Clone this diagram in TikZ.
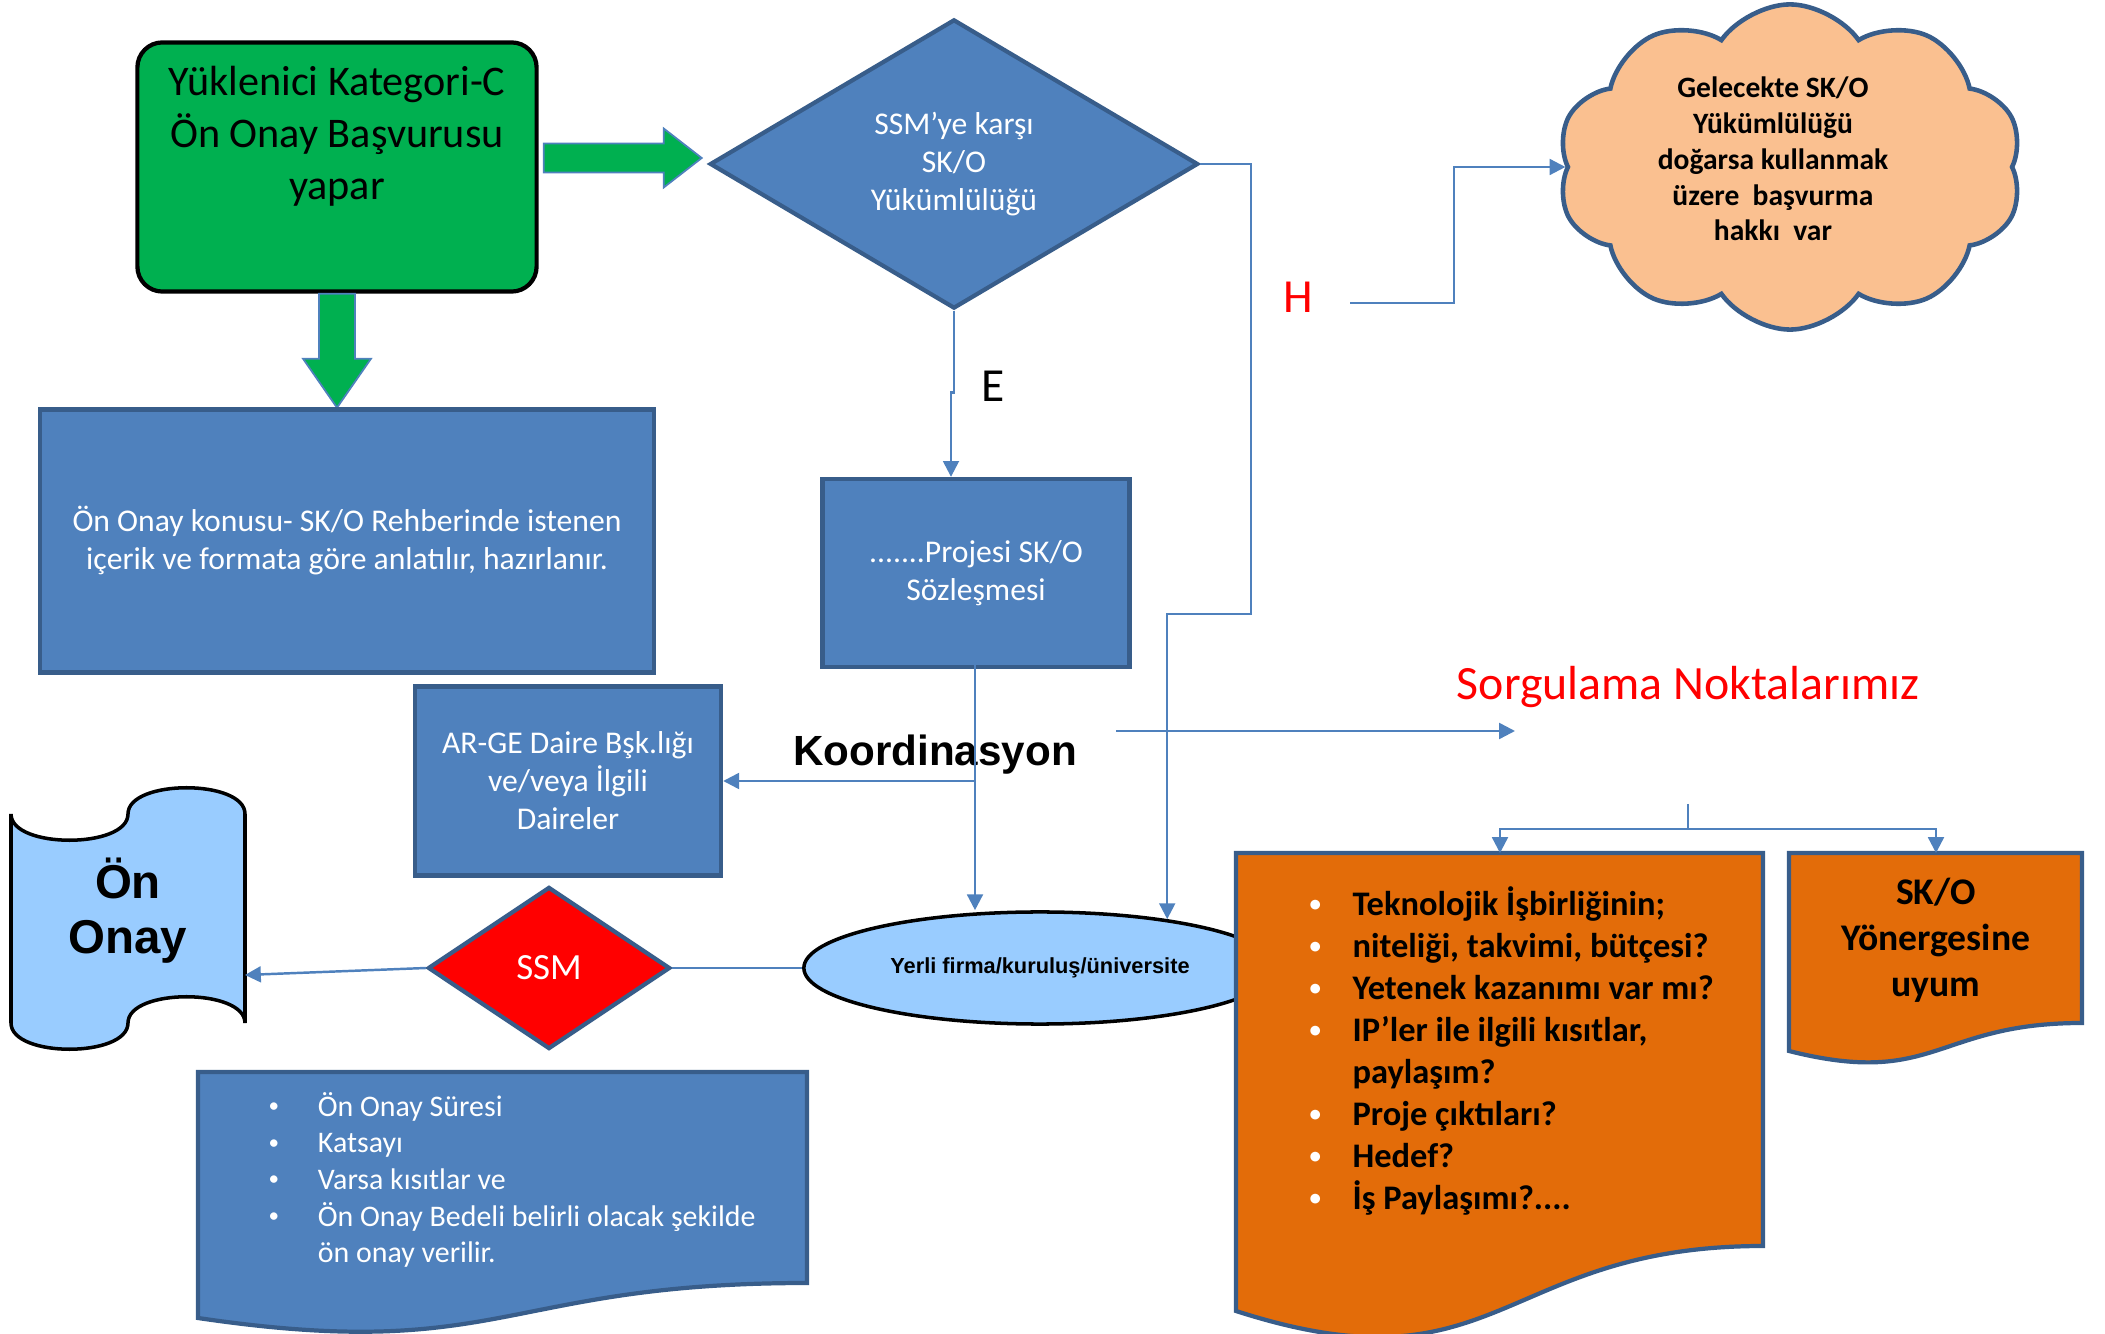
\documentclass[tikz,border=0pt]{standalone}
\usepackage{fontspec}
\setmainfont{Carlito}
\newfontfamily\arialfont{Liberation Sans}
\usetikzlibrary{calc, shapes.geometric, shapes.symbols, arrows.meta}

\definecolor{boxblue}{RGB}{79,129,189}
\definecolor{boxedge}{RGB}{56,93,138}
\definecolor{okgreen}{RGB}{0,176,80}
\definecolor{lightblue}{RGB}{153,204,255}
\definecolor{docorange}{RGB}{227,108,9}
\definecolor{cloudpeach}{RGB}{250,192,144}

\newcommand{\dotmark}[1]{\raisebox{1pt}{\fontsize{#1}{#1}\selectfont •}}

\tikzset{
	boxline/.style = {draw = boxedge, line width = 1.2pt},
	bluebox/.style = {boxline, fill = boxblue, inner sep = 0pt},
	whitetext/.style = {text = white, align = center, font = \fontsize{9}{10.8}\selectfont},
	greenarrow/.style = {fill = okgreen, draw = boxblue, line width = 0.5pt},
	conn/.style = {draw = boxblue, line width = 0.7pt, -{Triangle[width = 4.5pt, length = 4.5pt]}},
	plainconn/.style = {draw = boxblue, line width = 0.7pt}
}

\begin{document}
\begin{tikzpicture}[x = 0.01cm, y = -0.01cm]
		\useasboundingbox (0,0) rectangle (2105,1334);
		
		% basvuru
		\node [draw = black, line width = 1.2pt, fill = okgreen, rounded corners = 0.25cm, minimum width = 3.99cm, minimum height = 2.49cm] (yuk) at (337,167) {};
		\node [font = \fontsize{12}{14.8}\selectfont, align = center] (yuktxt) at (337,136) {Yüklenici Kategori-C\\Ön Onay Başvurusu\\yapar};
		
		\filldraw [greenarrow] ($(yuk.east)+(5,-23.5)$) -- ++(120,0) -- ++(0,-15) -- ++(38,29.5) -- ++(-38,29.5) -- ++(0,-15) -- ++(-120,0) -- cycle;
		\filldraw [greenarrow] ($(yuk.south)+(-18,0)$) -- ++(0,65) -- ++(-16,0) -- ++(34,49) -- ++(34,-49) -- ++(-16,0) -- ++(0,-65) -- cycle;
		
		\node [diamond, bluebox, aspect = 1.7, minimum width = 4.88cm, minimum height = 2.89cm, whitetext] (dia) at (954,164) {SSM’ye karşı\\SK/O\\Yükümlülüğü};
		
		\node [bluebox, minimum width = 6.14cm, minimum height = 2.63cm, whitetext] (konu) at (347,541) {Ön Onay konusu- SK/O Rehberinde istenen\\içerik ve formata göre anlatılır, hazırlanır.};
		\node [bluebox, minimum width = 3.07cm, minimum height = 1.88cm, whitetext] (proj) at (976,573) {.......Projesi SK/O\\Sözleşmesi};
		\node [bluebox, minimum width = 3.06cm, minimum height = 1.89cm, whitetext] (arge) at (568,781) {AR-GE Daire Bşk.lığı\\ve/veya İlgili\\Daireler};
		
		\node [diamond, boxline, fill = red, aspect = 1.5, inner sep = 0pt, minimum width = 2.42cm, minimum height = 1.62cm, text = white, font = \fontsize{10.5}{12}\selectfont] (ssm) at (549,968) {SSM};
		
		% on onay
		\filldraw [fill = lightblue, draw = black, line width = 1pt] (11,814) .. controls (11,849) and (128,849) .. (128,814) .. controls (128,779) and (245,779) .. (245,814) -- (245,1023) .. controls (245,988) and (128,988) .. (128,1023) .. controls (128,1058) and (11,1058) .. (11,1023) -- cycle;
		\node [font = \arialfont\bfseries\fontsize{13.5}{15.6}\selectfont, align = center] (onay) at (128,911) {Ön\\Onay};
		\coordinate (tapeR) at (245,975);
		
		\node [ellipse, draw = black, line width = 1pt, fill = lightblue, inner sep = 0pt, minimum width = 4.72cm, minimum height = 1.12cm, font = \arialfont\bfseries\fontsize{6.2}{7}\selectfont] (ell) at (1040,968) {Yerli firma/kuruluş/üniversite};
		
		% belgeler
		\filldraw [boxline, fill = boxblue] (198,1072) -- (807,1072) -- (807,1283) .. controls (502,1283) and (502,1363) .. (198,1318) -- cycle;
		\node [anchor = north west, inner sep = 0pt, text = white, font = \fontsize{8.5}{10.4}\selectfont] (ozet) at (268,1090) {\begin{tabular}{@{}p{14pt}@{}l@{}}
				\dotmark{6} & Ön Onay Süresi\\
				\dotmark{6} & Katsayı\\
				\dotmark{6} & Varsa kısıtlar ve\\
				\dotmark{6} & Ön Onay Bedeli belirli olacak şekilde\\
				  & ön onay verilir.
			\end{tabular}};
		
		\filldraw [boxline, fill = docorange] (1236,853) -- (1763,853) -- (1763,1246) .. controls (1499.5,1246) and (1499.5,1396) .. (1236,1311) -- cycle;
		\node [anchor = north west, inner sep = 0pt, font = \bfseries\fontsize{9.8}{11.95}\selectfont] (sorular) at (1309,885) {\begin{tabular}{@{}p{12.2pt}@{}l@{}}
				\textcolor{white}{\dotmark{6.5}} & Teknolojik İşbirliğinin;\\
				\textcolor{white}{\dotmark{6.5}} & niteliği, takvimi, bütçesi?\\
				\textcolor{white}{\dotmark{6.5}} & Yetenek kazanımı var mı?\\
				\textcolor{white}{\dotmark{6.5}} & IP’ler ile ilgili kısıtlar,\\
				 & paylaşım?\\
				\textcolor{white}{\dotmark{6.5}} & Proje çıktıları?\\
				\textcolor{white}{\dotmark{6.5}} & Hedef?\\
				\textcolor{white}{\dotmark{6.5}} & İş Paylaşımı?....
			\end{tabular}};
		
		\filldraw [boxline, fill = docorange] (1789,853) -- (2082,853) -- (2082,1023) .. controls (1935.5,1023) and (1935.5,1088) .. (1789,1051) -- cycle;
		\node [font = \bfseries\fontsize{10.7}{13.1}\selectfont, align = center] (yon) at (1936,940) {SK/O\\Yönergesine\\uyum};
		
		% bulut
		\node [cloud, cloud puffs = 10, cloud puff arc = 110, aspect = 1.4, draw = boxedge, line width = 1.3pt, fill = cloudpeach, minimum width = 4.65cm, minimum height = 3.25cm] (cloud) at (1790,167) {};
		\node [font = \bfseries\fontsize{8.4}{10.2}\selectfont, align = center] (cloudtxt) at (1773,159) {Gelecekte SK/O\\Yükümlülüğü\\doğarsa kullanmak\\üzere\ \ başvurma\\hakkı\ \ var};
		
		% etiketler
		\node [font = \fontsize{13.5}{16}\selectfont] (elbl) at (993,386) {E};
		\node [font = \fontsize{13.5}{16}\selectfont, text = red] (hlbl) at (1298,297) {H};
		\node [font = \arialfont\bfseries\fontsize{12}{14}\selectfont] (koord) at (935,755) {Koordinasyon};
		\node [font = \fontsize{13.6}{16}\selectfont, text = red] (sorg) at (1688,687) {Sorgulama Noktalarımız};
		
		% baglantilar
		\draw [conn] (dia.south) -- ++(0,82) -- ++(-3,0) -- ($(dia.south |- proj.north)+(-3,0)$);
		
		\coordinate (hbend) at (1251,614);
		\draw [conn] (dia.east) -| (hbend) -| (ell.21);
		
		\coordinate (hstart) at (1350,303);
		\coordinate (hbend2) at (1454,303);
		\draw [conn] (hstart) -- (hbend2) |- (cloud.west);
		
		\coordinate (pjs) at (975,607);
		\draw [conn] (pjs) -- (pjs |- ell.north);
		\draw [conn] (pjs |- arge.east) -- (arge.east);
		
		\coordinate (sgstart) at (1116,731);
		\coordinate (sgend) at (1515,731);
		\draw [conn] (sgstart) -- (sgend);
		
		\coordinate (brtop) at (1688,804);
		\coordinate (qtop) at (1500,853);
		\coordinate (ytop) at (1936,853);
		\draw [plainconn] (brtop) -- ++(0,25) coordinate (brmid);
		\draw [conn] (brmid) -| (qtop);
		\draw [conn] (brmid) -| (ytop);
		
		\draw [plainconn] (ell.west) -- (ssm.east);
		\draw [conn] (ssm.west) -- (tapeR);
	\end{tikzpicture}
\end{document}
